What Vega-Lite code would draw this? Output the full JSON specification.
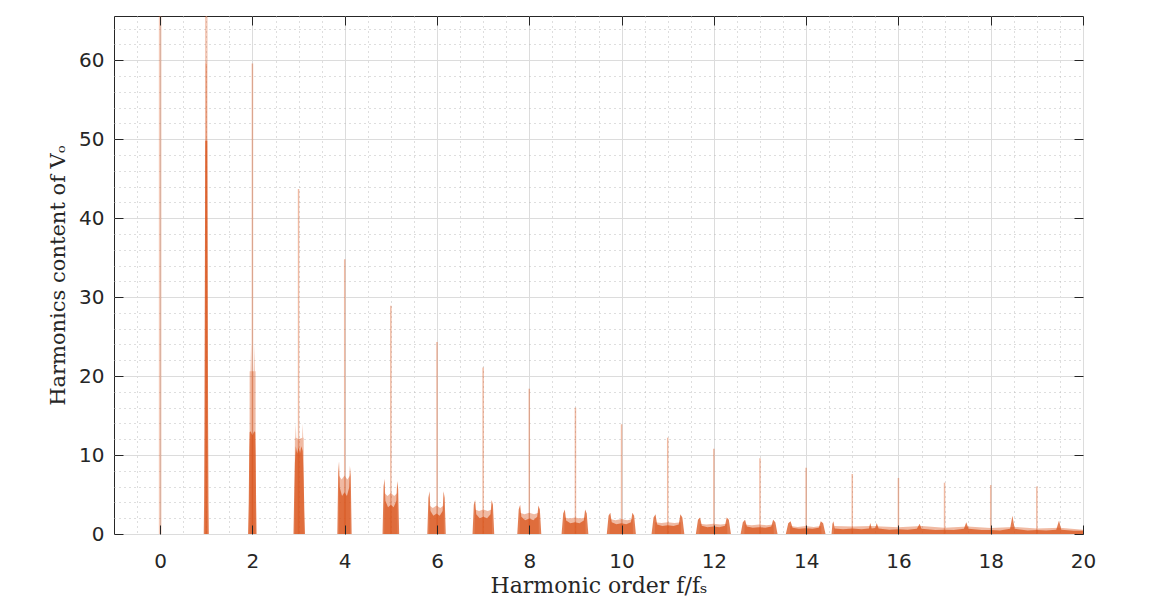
{
  "$schema": "https://vega.github.io/schema/vega-lite/v6.json",
  "width": 969,
  "height": 518,
  "autosize": "none",
  "padding": {"left": 114, "top": 16, "right": 76, "bottom": 69},
  "background": "white",
  "config": {"view": {"stroke": "#262626", "strokeWidth": 1}},
  "datasets": {
    "spikes": [
      {"n":0,"v":65.6},{"n":1,"v":65.6},{"n":2,"v":59.6},{"n":3,"v":43.7},{"n":4,"v":34.8},
      {"n":5,"v":28.9},{"n":6,"v":24.3},{"n":7,"v":21.1},{"n":8,"v":18.4},{"n":9,"v":16.0},
      {"n":10,"v":13.9},{"n":11,"v":12.2},{"n":12,"v":10.8},{"n":13,"v":9.6},{"n":14,"v":8.4},
      {"n":15,"v":7.6},{"n":16,"v":7.1},{"n":17,"v":6.5},{"n":18,"v":6.2},{"n":19,"v":6.0}
    ],
    "env": [
      {"g":1,"x":0.985,"y":0},{"g":1,"x":0.986,"y":59.6},{"g":1,"x":1.014,"y":59.6},{"g":1,"x":1.015,"y":0},
      {"g":2,"x":1.935,"y":0},{"g":2,"x":1.94,"y":20.6},{"g":2,"x":1.96,"y":20.6},{"g":2,"x":1.97,"y":24.0},{"g":2,"x":1.98,"y":20.6},{"g":2,"x":2.03,"y":20.6},{"g":2,"x":2.04,"y":24.0},{"g":2,"x":2.05,"y":20.6},{"g":2,"x":2.068,"y":20.6},{"g":2,"x":2.07,"y":0},
      {"g":3,"x":2.915,"y":0},{"g":3,"x":2.92,"y":12.2},{"g":3,"x":2.93,"y":12.2},{"g":3,"x":2.94,"y":14.0},{"g":3,"x":2.95,"y":12.2},{"g":3,"x":3.0,"y":12.0},{"g":3,"x":3.08,"y":12.2},{"g":3,"x":3.09,"y":14.0},{"g":3,"x":3.1,"y":12.2},{"g":3,"x":3.11,"y":12.2},{"g":3,"x":3.115,"y":0},
      {"g":4,"x":3.871,"y":0},{"g":4,"x":3.874,"y":7.4},{"g":4,"x":3.933,"y":6.9},{"g":4,"x":3.995,"y":7.4},{"g":4,"x":4.057,"y":6.9},{"g":4,"x":4.116,"y":7.4},{"g":4,"x":4.119,"y":0},
      {"g":5,"x":4.856,"y":0},{"g":5,"x":4.86,"y":5.2},{"g":5,"x":4.928,"y":4.8},{"g":5,"x":5.0,"y":5.2},{"g":5,"x":5.072,"y":4.8},{"g":5,"x":5.14,"y":5.2},{"g":5,"x":5.144,"y":0},
      {"g":6,"x":5.83,"y":0},{"g":6,"x":5.834,"y":3.6},{"g":6,"x":5.91,"y":3.3},{"g":6,"x":5.99,"y":3.6},{"g":6,"x":6.07,"y":3.3},{"g":6,"x":6.146,"y":3.6},{"g":6,"x":6.15,"y":0},
      {"g":7,"x":6.817,"y":0},{"g":7,"x":6.822,"y":3.1},{"g":7,"x":6.911,"y":2.9},{"g":7,"x":7.005,"y":3.1},{"g":7,"x":7.099,"y":2.9},{"g":7,"x":7.188,"y":3.1},{"g":7,"x":7.193,"y":0},
      {"g":8,"x":7.792,"y":0},{"g":8,"x":7.797,"y":2.7},{"g":8,"x":7.896,"y":2.5},{"g":8,"x":8.0,"y":2.7},{"g":8,"x":8.104,"y":2.5},{"g":8,"x":8.203,"y":2.7},{"g":8,"x":8.208,"y":0},
      {"g":9,"x":8.758,"y":0},{"g":9,"x":8.764,"y":2.1},{"g":9,"x":8.874,"y":1.95},{"g":9,"x":8.99,"y":2.1},{"g":9,"x":9.106,"y":1.95},{"g":9,"x":9.216,"y":2.1},{"g":9,"x":9.222,"y":0},
      {"g":10,"x":9.743,"y":0},{"g":10,"x":9.749,"y":1.9},{"g":10,"x":9.869,"y":1.75},{"g":10,"x":9.995,"y":1.9},{"g":10,"x":10.121,"y":1.75},{"g":10,"x":10.241,"y":1.9},{"g":10,"x":10.247,"y":0},
      {"g":11,"x":10.721,"y":0},{"g":11,"x":10.728,"y":1.5},{"g":11,"x":10.863,"y":1.4},{"g":11,"x":11.005,"y":1.5},{"g":11,"x":11.147,"y":1.4},{"g":11,"x":11.282,"y":1.5},{"g":11,"x":11.289,"y":0},
      {"g":12,"x":11.686,"y":0},{"g":12,"x":11.694,"y":1.3},{"g":12,"x":11.838,"y":1.2},{"g":12,"x":11.99,"y":1.3},{"g":12,"x":12.142,"y":1.2},{"g":12,"x":12.286,"y":1.3},{"g":12,"x":12.294,"y":0},
      {"g":13,"x":12.66,"y":0},{"g":13,"x":12.668,"y":1.2},{"g":13,"x":12.82,"y":1.1},{"g":13,"x":12.98,"y":1.2},{"g":13,"x":13.14,"y":1.1},{"g":13,"x":13.292,"y":1.2},{"g":13,"x":13.3,"y":0},
      {"g":14,"x":13.646,"y":0},{"g":14,"x":13.655,"y":1.0},{"g":14,"x":13.818,"y":0.9},{"g":14,"x":13.99,"y":1.0},{"g":14,"x":14.162,"y":0.9},{"g":14,"x":14.325,"y":1.0},{"g":14,"x":14.334,"y":0},
      {"g":15,"x":14.6,"y":0},{"g":15,"x":14.61,"y":1.0},{"g":15,"x":15.0,"y":0.95},{"g":15,"x":15.4,"y":1.0},{"g":15,"x":16.0,"y":0.85},{"g":15,"x":16.5,"y":1.0},{"g":15,"x":17.0,"y":0.8},{"g":15,"x":17.5,"y":0.95},{"g":15,"x":18.0,"y":0.75},{"g":15,"x":18.5,"y":0.9},{"g":15,"x":19.0,"y":0.7},{"g":15,"x":19.5,"y":0.8},{"g":15,"x":20.0,"y":0.55}
    ],
    "dense": [
      {"g":1,"x":0.945,"y":0},{"g":1,"x":0.952,"y":3.8},{"g":1,"x":0.96,"y":13.7},{"g":1,"x":0.97,"y":34.4},{"g":1,"x":0.978,"y":49.8},{"g":1,"x":1.022,"y":49.8},{"g":1,"x":1.03,"y":34.4},{"g":1,"x":1.04,"y":13.7},{"g":1,"x":1.048,"y":3.8},{"g":1,"x":1.055,"y":0},
      {"g":2,"x":1.905,"y":0},{"g":2,"x":1.92,"y":4},{"g":2,"x":1.93,"y":10},{"g":2,"x":1.94,"y":12.9},{"g":2,"x":1.96,"y":13.0},{"g":2,"x":2.0,"y":12.5},{"g":2,"x":2.04,"y":13.0},{"g":2,"x":2.06,"y":12.9},{"g":2,"x":2.07,"y":10},{"g":2,"x":2.08,"y":4},{"g":2,"x":2.09,"y":0},
      {"g":3,"x":2.89,"y":0},{"g":3,"x":2.905,"y":5},{"g":3,"x":2.92,"y":9},{"g":3,"x":2.94,"y":11.1},{"g":3,"x":2.97,"y":10.2},{"g":3,"x":3.0,"y":11.0},{"g":3,"x":3.03,"y":10.2},{"g":3,"x":3.06,"y":11.1},{"g":3,"x":3.09,"y":10.5},{"g":3,"x":3.11,"y":7},{"g":3,"x":3.125,"y":3},{"g":3,"x":3.14,"y":0},
      {"g":4,"x":3.84,"y":0},{"g":4,"x":3.859,"y":7.8},{"g":4,"x":3.877,"y":9.2},{"g":4,"x":3.893,"y":5.9},{"g":4,"x":3.942,"y":4.8},{"g":4,"x":3.995,"y":5.3},{"g":4,"x":4.048,"y":4.8},{"g":4,"x":4.097,"y":5.9},{"g":4,"x":4.113,"y":8.6},{"g":4,"x":4.131,"y":7.3},{"g":4,"x":4.15,"y":0},
      {"g":5,"x":4.82,"y":0},{"g":5,"x":4.842,"y":6.0},{"g":5,"x":4.863,"y":7.0},{"g":5,"x":4.881,"y":4.2},{"g":5,"x":4.939,"y":3.4},{"g":5,"x":5.0,"y":3.7},{"g":5,"x":5.061,"y":3.4},{"g":5,"x":5.119,"y":4.2},{"g":5,"x":5.137,"y":6.7},{"g":5,"x":5.158,"y":5.7},{"g":5,"x":5.18,"y":0},
      {"g":6,"x":5.79,"y":0},{"g":6,"x":5.814,"y":4.6},{"g":6,"x":5.838,"y":5.4},{"g":6,"x":5.858,"y":2.9},{"g":6,"x":5.922,"y":2.3},{"g":6,"x":5.99,"y":2.6},{"g":6,"x":6.058,"y":2.3},{"g":6,"x":6.122,"y":2.9},{"g":6,"x":6.142,"y":5.4},{"g":6,"x":6.166,"y":4.6},{"g":6,"x":6.19,"y":0},
      {"g":7,"x":6.77,"y":0},{"g":7,"x":6.798,"y":3.7},{"g":7,"x":6.826,"y":4.3},{"g":7,"x":6.85,"y":2.5},{"g":7,"x":6.925,"y":2.0},{"g":7,"x":7.005,"y":2.2},{"g":7,"x":7.085,"y":2.0},{"g":7,"x":7.16,"y":2.5},{"g":7,"x":7.184,"y":4.3},{"g":7,"x":7.212,"y":3.7},{"g":7,"x":7.24,"y":0},
      {"g":8,"x":7.74,"y":0},{"g":8,"x":7.771,"y":3.1},{"g":8,"x":7.802,"y":3.7},{"g":8,"x":7.828,"y":2.2},{"g":8,"x":7.912,"y":1.75},{"g":8,"x":8.0,"y":1.95},{"g":8,"x":8.088,"y":1.75},{"g":8,"x":8.172,"y":2.2},{"g":8,"x":8.198,"y":3.6},{"g":8,"x":8.229,"y":3.1},{"g":8,"x":8.26,"y":0},
      {"g":9,"x":8.7,"y":0},{"g":9,"x":8.735,"y":2.6},{"g":9,"x":8.77,"y":3.1},{"g":9,"x":8.799,"y":1.7},{"g":9,"x":8.891,"y":1.35},{"g":9,"x":8.99,"y":1.5},{"g":9,"x":9.089,"y":1.35},{"g":9,"x":9.181,"y":1.7},{"g":9,"x":9.21,"y":3.1},{"g":9,"x":9.245,"y":2.6},{"g":9,"x":9.28,"y":0},
      {"g":10,"x":9.68,"y":0},{"g":10,"x":9.718,"y":2.3},{"g":10,"x":9.756,"y":2.7},{"g":10,"x":9.787,"y":1.5},{"g":10,"x":9.888,"y":1.25},{"g":10,"x":9.995,"y":1.35},{"g":10,"x":10.102,"y":1.25},{"g":10,"x":10.203,"y":1.5},{"g":10,"x":10.234,"y":2.7},{"g":10,"x":10.272,"y":2.3},{"g":10,"x":10.31,"y":0},
      {"g":11,"x":10.65,"y":0},{"g":11,"x":10.693,"y":2.1},{"g":11,"x":10.735,"y":2.5},{"g":11,"x":10.771,"y":1.2},{"g":11,"x":10.884,"y":1.0},{"g":11,"x":11.005,"y":1.1},{"g":11,"x":11.126,"y":1.0},{"g":11,"x":11.239,"y":1.2},{"g":11,"x":11.275,"y":2.5},{"g":11,"x":11.317,"y":2.1},{"g":11,"x":11.36,"y":0},
      {"g":12,"x":11.61,"y":0},{"g":12,"x":11.656,"y":1.8},{"g":12,"x":11.701,"y":2.1},{"g":12,"x":11.739,"y":1.05},{"g":12,"x":11.861,"y":0.85},{"g":12,"x":11.99,"y":0.95},{"g":12,"x":12.119,"y":0.85},{"g":12,"x":12.241,"y":1.05},{"g":12,"x":12.279,"y":2.1},{"g":12,"x":12.324,"y":1.8},{"g":12,"x":12.37,"y":0},
      {"g":13,"x":12.58,"y":0},{"g":13,"x":12.628,"y":1.5},{"g":13,"x":12.676,"y":1.8},{"g":13,"x":12.716,"y":0.95},{"g":13,"x":12.844,"y":0.8},{"g":13,"x":12.98,"y":0.85},{"g":13,"x":13.116,"y":0.8},{"g":13,"x":13.244,"y":0.95},{"g":13,"x":13.284,"y":1.8},{"g":13,"x":13.332,"y":1.5},{"g":13,"x":13.38,"y":0},
      {"g":14,"x":13.56,"y":0},{"g":14,"x":13.612,"y":1.35},{"g":14,"x":13.663,"y":1.6},{"g":14,"x":13.706,"y":0.8},{"g":14,"x":13.844,"y":0.65},{"g":14,"x":13.99,"y":0.72},{"g":14,"x":14.136,"y":0.65},{"g":14,"x":14.274,"y":0.8},{"g":14,"x":14.317,"y":1.6},{"g":14,"x":14.368,"y":1.35},{"g":14,"x":14.42,"y":0},
      {"g":15,"x":14.55,"y":0},{"g":15,"x":14.57,"y":1.3},{"g":15,"x":14.59,"y":1.6},{"g":15,"x":14.62,"y":0.7},{"g":15,"x":14.8,"y":0.6},{"g":15,"x":15.0,"y":0.7},{"g":15,"x":15.2,"y":0.6},{"g":15,"x":15.36,"y":0.7},{"g":15,"x":15.39,"y":1.4},{"g":15,"x":15.42,"y":0.7},{"g":15,"x":15.5,"y":0.75},{"g":15,"x":15.53,"y":1.4},{"g":15,"x":15.57,"y":0.7},{"g":15,"x":15.8,"y":0.55},{"g":15,"x":16.0,"y":0.6},{"g":15,"x":16.2,"y":0.55},{"g":15,"x":16.4,"y":0.65},{"g":15,"x":16.46,"y":1.3},{"g":15,"x":16.5,"y":0.65},{"g":15,"x":16.8,"y":0.5},{"g":15,"x":17.0,"y":0.55},{"g":15,"x":17.2,"y":0.5},{"g":15,"x":17.42,"y":0.65},{"g":15,"x":17.47,"y":1.5},{"g":15,"x":17.52,"y":0.65},{"g":15,"x":17.8,"y":0.5},{"g":15,"x":18.0,"y":0.5},{"g":15,"x":18.2,"y":0.45},{"g":15,"x":18.42,"y":0.65},{"g":15,"x":18.47,"y":2.3},{"g":15,"x":18.52,"y":0.65},{"g":15,"x":18.8,"y":0.45},{"g":15,"x":19.0,"y":0.5},{"g":15,"x":19.2,"y":0.45},{"g":15,"x":19.42,"y":0.55},{"g":15,"x":19.48,"y":1.7},{"g":15,"x":19.53,"y":0.55},{"g":15,"x":19.8,"y":0.4},{"g":15,"x":20.0,"y":0.4}
    ]
  },
  "layer": [
    {
      "data": {"name": "spikes"},
      "transform": [{"filter": "datum.n <= 1"}],
      "mark": {"type": "rule", "color": "#D95319", "strokeWidth": 2.6, "opacity": 0.3},
      "encoding": {
        "x": {"field": "n", "type": "quantitative", "scale": {"domain": [-1, 20], "nice": false, "zero": false},
          "axis": {"orient": "bottom", "values": [-0.5,0.5,1,1.5,2.5,3,3.5,4.5,5,5.5,6.5,7,7.5,8.5,9,9.5,10.5,11,11.5,12.5,13,13.5,14.5,15,15.5,16.5,17,17.5,18.5,19,19.5],
            "grid": true, "gridColor": "#bdbdbd", "gridDash": [1, 4], "gridWidth": 1, "ticks": false, "labels": false, "domain": false, "title": null, "zindex": 0}},
        "y": {"field": "v", "type": "quantitative", "scale": {"domain": [0, 65.6], "nice": false},
          "axis": {"orient": "left", "values": [2,4,6,8,12,14,16,18,22,24,26,28,32,34,36,38,42,44,46,48,52,54,56,58,62,64],
            "grid": true, "gridColor": "#bdbdbd", "gridDash": [1, 4], "gridWidth": 1, "ticks": false, "labels": false, "domain": false, "title": null, "zindex": 0}},
        "y2": {"datum": 0}
      }
    },
    {
      "data": {"name": "env"},
      "mark": {"type": "area", "color": "#D95319", "opacity": 0.4},
      "encoding": {
        "x": {"field": "x", "type": "quantitative", "scale": {"domain": [-1, 20], "nice": false, "zero": false},
          "axis": {"orient": "bottom", "values": [0,2,4,6,8,10,12,14,16,18,20], "grid": true, "gridColor": "#dcdcdc", "gridWidth": 1,
            "ticks": false, "domain": false, "labelFlush": false, "labelFont": "DejaVu Sans", "labelFontSize": 20, "labelColor": "#262626", "labelPadding": 17,
            "title": "Harmonic order f/fₛ", "titleFont": "DejaVu Serif", "titleFontSize": 22, "titleFontWeight": "normal", "titleColor": "#262626", "titlePadding": 4, "zindex": 0}},
        "y": {"field": "y", "type": "quantitative", "scale": {"domain": [0, 65.6], "nice": false},
          "axis": {"orient": "left", "values": [0,10,20,30,40,50,60], "grid": true, "gridColor": "#dcdcdc", "gridWidth": 1,
            "ticks": false, "domain": false, "labelFlush": false, "labelFont": "DejaVu Sans", "labelFontSize": 20, "labelColor": "#262626", "labelPadding": 10,
            "title": "Harmonics content of Vₒ", "titleFont": "DejaVu Serif", "titleFontSize": 21, "titleFontWeight": "normal", "titleColor": "#262626", "titlePadding": 10, "zindex": 0}},
        "detail": {"field": "g", "type": "nominal"}
      }
    },
    {
      "data": {"name": "dense"},
      "mark": {"type": "area", "color": "#D95319", "opacity": 0.75},
      "encoding": {
        "x": {"field": "x", "type": "quantitative", "scale": {"domain": [-1, 20], "nice": false, "zero": false},
          "axis": {"orient": "bottom", "offset": -9, "values": [0,2,4,6,8,10,12,14,16,18,20], "grid": false, "ticks": true, "tickSize": 9, "tickColor": "#262626", "tickWidth": 1,
            "labels": false, "domain": false, "title": null, "zindex": 2}},
        "y": {"field": "y", "type": "quantitative", "scale": {"domain": [0, 65.6], "nice": false},
          "axis": {"orient": "left", "offset": -9, "values": [0,10,20,30,40,50,60], "grid": false, "ticks": true, "tickSize": 9, "tickColor": "#262626", "tickWidth": 1,
            "labels": false, "domain": false, "title": null, "zindex": 2}},
        "detail": {"field": "g", "type": "nominal"}
      }
    },
    {
      "data": {"name": "spikes"},
      "transform": [{"filter": "datum.n >= 2"}],
      "mark": {"type": "rule", "color": "#D95319", "strokeWidth": 1.5, "opacity": 0.4},
      "encoding": {
        "x": {"field": "n", "type": "quantitative", "scale": {"domain": [-1, 20], "nice": false, "zero": false},
          "axis": {"orient": "top", "offset": -9, "values": [0,2,4,6,8,10,12,14,16,18,20], "grid": false, "ticks": true, "tickSize": 9, "tickColor": "#262626", "tickWidth": 1,
            "labels": false, "domain": false, "title": null, "zindex": 2}},
        "y": {"field": "v", "type": "quantitative", "scale": {"domain": [0, 65.6], "nice": false},
          "axis": {"orient": "right", "offset": -9, "values": [0,10,20,30,40,50,60], "grid": false, "ticks": true, "tickSize": 9, "tickColor": "#262626", "tickWidth": 1,
            "labels": false, "domain": false, "title": null, "zindex": 2}},
        "y2": {"datum": 0}
      }
    }
  ],
  "resolve": {"axis": {"x": "independent", "y": "independent"}}
}
